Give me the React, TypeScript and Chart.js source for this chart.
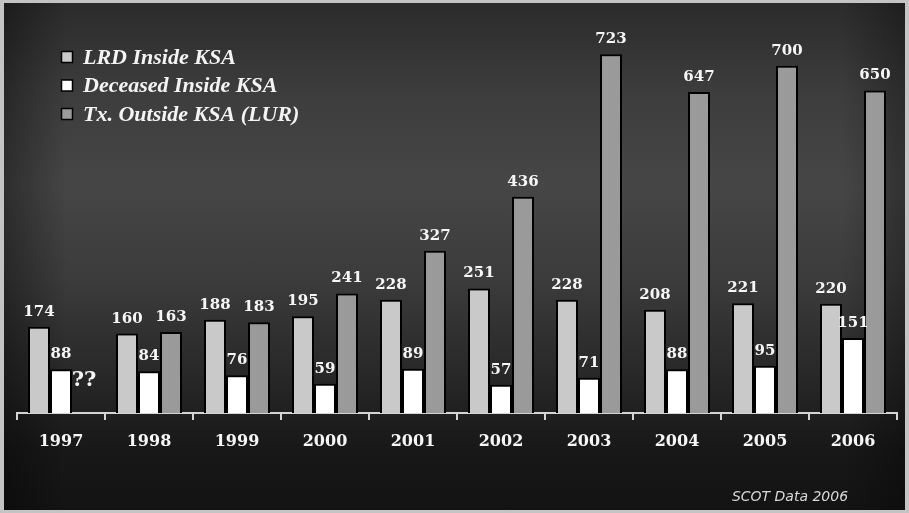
import React, { useEffect, useRef } from "react";
import { Chart, registerables } from "chart.js";

Chart.register(...registerables);

const years = ["1997", "1998", "1999", "2000", "2001", "2002", "2003", "2004", "2005", "2006"];
const lrdInside = [174, 160, 188, 195, 228, 251, 228, 208, 221, 220];
const deceasedInside = [88, 84, 76, 59, 89, 57, 71, 88, 95, 151];
const txOutside: (number | null)[] = [null, 163, 183, 241, 327, 436, 723, 647, 700, 650];
const missingLabel = "??";
const seriesNames = ["LRD Inside KSA", "Deceased Inside KSA", "Tx. Outside KSA (LUR)"];
const seriesColors = ["#c9c9c9", "#ffffff", "#9a9a9a"];
const sourceNote = "SCOT Data 2006";

const W = 901;
const H = 507;

const overlayPlugin = {
  id: "overlay",
  afterDatasetsDraw(chart: any) {
    const ctx = chart.ctx as CanvasRenderingContext2D;
    const xScale = chart.scales.x;
    const base = chart.chartArea.bottom;
    ctx.save();
    ctx.fillStyle = "#f6f6f6";
    ctx.textAlign = "center";
    ctx.textBaseline = "alphabetic";
    chart.data.datasets.forEach((ds: any, di: number) => {
      const meta = chart.getDatasetMeta(di);
      meta.data.forEach((el: any, i: number) => {
        const v = ds.data[i];
        if (v === null || v === undefined) {
          let x = el.x;
          if (!isFinite(x)) x = xScale.getPixelForValue(i) + 22;
          ctx.font = "bold 21px 'DejaVu Serif'";
          ctx.fillText(missingLabel, x + 1, base - 27);
        } else {
          ctx.font = "bold 15px 'DejaVu Serif'";
          ctx.fillText(String(v), el.x, el.y - 11);
        }
      });
    });

    // legend
    const rows = [54, 82.5, 111];
    seriesNames.forEach((name, i) => {
      const cy = rows[i];
      ctx.fillStyle = seriesColors[i];
      ctx.fillRect(57.5, cy - 5.5, 11, 11);
      ctx.strokeStyle = "#000";
      ctx.lineWidth = 1.5;
      ctx.strokeRect(57.5, cy - 5.5, 11, 11);
      ctx.fillStyle = "#f4f4f4";
      ctx.font = "italic bold 22px 'Liberation Serif'";
      ctx.textAlign = "left";
      ctx.textBaseline = "middle";
      ctx.fillText(name, 79, cy + 1);
    });

    // source note
    ctx.fillStyle = "#d8d8d8";
    ctx.font = "oblique 14px 'DejaVu Sans'";
    ctx.textAlign = "center";
    ctx.textBaseline = "alphabetic";
    ctx.fillText(sourceNote, 786, 498);
    ctx.restore();
  },
};

export default function App() {
  const ref = useRef<HTMLCanvasElement | null>(null);
  useEffect(() => {
    if (!ref.current) return;
    const mk = (label: string, data: (number | null)[], color: string) => ({
      label,
      data,
      backgroundColor: color,
      borderColor: "#000000",
      borderWidth: 2,
      borderSkipped: "bottom" as const,
      categoryPercentage: 0.75,
      barPercentage: 1.0,
    });
    const chart = new Chart(ref.current, {
      type: "bar",
      data: {
        labels: years,
        datasets: [
          mk(seriesNames[0], lrdInside, seriesColors[0]),
          mk(seriesNames[1], deceasedInside, seriesColors[1]),
          mk(seriesNames[2], txOutside, seriesColors[2]),
        ],
      },
      options: {
        responsive: false,
        animation: false,
        layout: { padding: { left: 13, right: 8, top: 13, bottom: 0 } },
        plugins: {
          legend: { display: false },
          tooltip: { enabled: false },
        },
        scales: {
          y: { display: false, min: 0, max: 800 },
          x: {
            afterFit: (scale: any) => {
              scale.height = 97;
            },
            grid: {
              display: true,
              drawOnChartArea: false,
              drawTicks: true,
              tickLength: 7,
              color: "#d4d4d4",
              lineWidth: 2,
              offset: true,
            },
            border: { display: true, color: "#d4d4d4", width: 2 },
            ticks: {
              color: "#f6f6f6",
              font: { family: "'DejaVu Serif'", weight: "bold", size: 16 },
              padding: 12,
              maxRotation: 0,
            },
          },
        },
      },
      plugins: [overlayPlugin],
    });
    return () => chart.destroy();
  }, []);

  return (
    <div
      style={{
        position: "fixed",
        left: 0,
        top: 0,
        width: 909,
        height: 513,
        background: "#c4c4c4",
      }}
    >
      <div
        style={{
          position: "absolute",
          left: 4,
          top: 3,
          width: W,
          height: H,
          background:
            "linear-gradient(to right, rgba(0,0,0,0.35) 0%, rgba(0,0,0,0) 7%, rgba(0,0,0,0) 93%, rgba(0,0,0,0.3) 100%), linear-gradient(to bottom, #2b2b2b 0%, #3d3d3d 18%, #464646 36%, #3b3b3b 55%, #272727 74%, #181818 88%, #131313 100%)",
        }}
      >
        <canvas ref={ref} width={W} height={H} style={{ width: W, height: H, display: "block" }} />
      </div>
    </div>
  );
}
